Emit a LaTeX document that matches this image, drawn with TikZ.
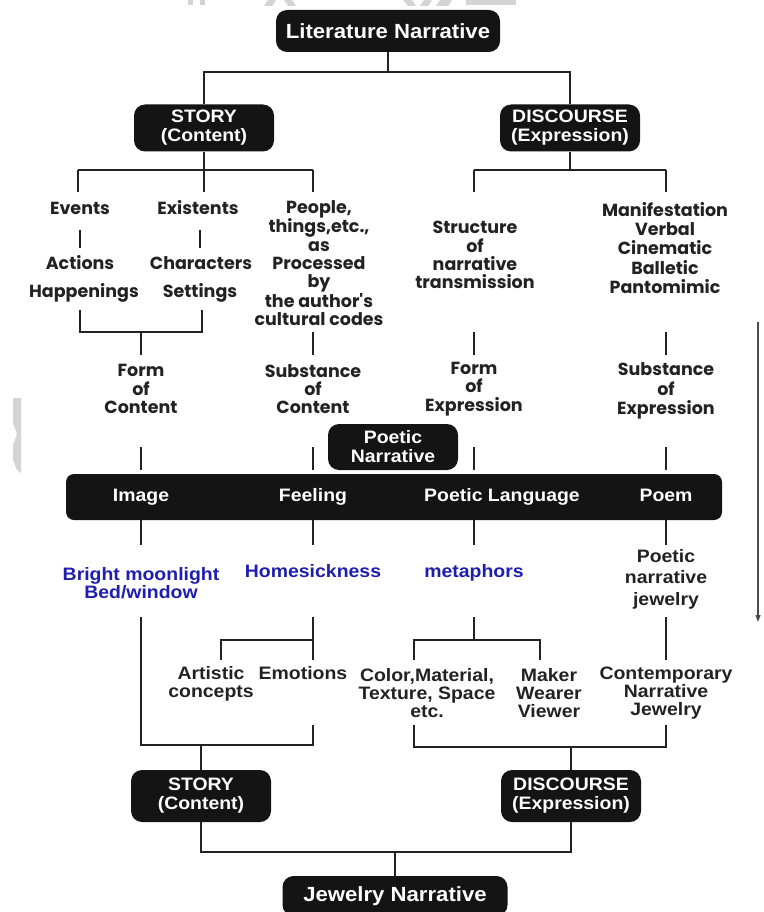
\documentclass[tikz,border=0pt]{standalone}
\usepackage{fontspec}
\setmainfont{Liberation Sans}
\newfontfamily\narrowfont[FakeStretch=1.08]{Liberation Sans}
\newfontfamily\geofont{Poppins}
\usetikzlibrary{calc,arrows.meta}
\definecolor{ink}{RGB}{34,34,34}
\definecolor{navy}{RGB}{30,30,175}
\definecolor{faintgrey}{RGB}{212,212,212}

\tikzset{
  blackbox/.style={fill=black!92, rounded corners=11pt, text=white, align=center,
    inner sep=0pt, font=\narrowfont\bfseries\fontsize{18}{19}\selectfont},
  titlebox/.style={blackbox, font=\narrowfont\bfseries\fontsize{20.5}{21}\selectfont},
  geo/.style={text=ink, align=center, inner sep=0pt,
    font=\geofont\bfseries\fontsize{17.5}{18.3}\selectfont},
  nar/.style={text=ink, align=center, inner sep=0pt,
    font=\narrowfont\bfseries\fontsize{18}{18}\selectfont},
  bluetxt/.style={nar, text=navy},
  oneline/.style={text height=13pt, text depth=4pt},
  bandtxt/.style={text=white, inner sep=0pt, oneline,
    font=\narrowfont\bfseries\fontsize{18}{19}\selectfont},
  link/.style={draw=ink, line width=1.8pt},
}

\begin{document}
\begin{tikzpicture}[x=1pt,y=-1pt]
\useasboundingbox (0,0) rectangle (763,912);

% faint background marks
\fill[faintgrey] (188,0) rectangle (193,5);
\fill[faintgrey] (200,0) rectangle (205,5);
\fill[faintgrey] (268,0) -- (276,0) -- (272,6) -- (264,6) -- cycle;
\fill[faintgrey] (284,0) -- (292,0) -- (296,6) -- (288,6) -- cycle;
\fill[faintgrey] (403,0) -- (412,0) -- (416,6) -- (408,6) -- cycle;
\fill[faintgrey] (424,0) -- (432,0) -- (428,6) -- (420,6) -- cycle;
\fill[faintgrey] (440,0) -- (452,0) -- (448,6) -- (436,6) -- cycle;
\fill[faintgrey] (466,0) rectangle (516,5);
\fill[faintgrey] (13,398) -- (21,398) -- (21,473) -- (17,470) -- (13,460) -- (13,445) -- (17,434) -- (13,423) -- cycle;

% ---------- upper tree: literature narrative ----------
\node[titlebox, minimum width=224pt, minimum height=42pt] (lit) at (388,31) {Literature Narrative};
\node[blackbox, minimum width=140pt, minimum height=47pt] (story) at (204,128) {STORY\\(Content)};
\node[blackbox, minimum width=140pt, minimum height=47pt] (disc) at (570,128) {DISCOURSE\\(Expression)};

\node[geo] (events)    at (80,208)  {Events};
\node[geo] (existents) at (198,208) {Existents};
\node[geo] (people)    at (319,263) {People,\\things,etc.,\\as\\Processed\\by\\the author's\\cultural codes};
\node[geo] (actions)   at (80,263)  {Actions};
\node[geo] (characters) at (201,263) {Characters};
\node[geo] (happen)    at (84,293)  {Happenings};
\node[geo] (settings)  at (200,293) {Settings};

\node[geo] (struct) at (475,255) {Structure\\of\\narrative\\transmission};
\node[geo, font=\geofont\bfseries\fontsize{17.5}{19.2}\selectfont] (manif) at (665,248)
  {Manifestation\\Verbal\\Cinematic\\Balletic\\Pantomimic};

\node[geo] (formc)  at (141,389) {Form\\of\\Content};
\node[geo] (substc) at (313,389) {Substance\\of\\Content};
\node[geo] (forme)  at (474,389) {Form\\of\\Expression};
\node[geo, font=\geofont\bfseries\fontsize{17.5}{19.5}\selectfont] (subste) at (666,391) {Substance\\of\\Expression};

\coordinate (j1) at (388,72);
\draw[link] (lit.south) -- (j1);
\draw[link] (j1) -| (story.north);
\draw[link] (j1) -| (disc.north);

\coordinate (j2) at (204,170);
\draw[link] (story.south) -- (j2);
\draw[link] ($(j2 -| events)+(-2,0)$) -- (j2 -| substc);
\draw[link] ($(j2 -| events)+(-2,0)$) -- ($(events)+(-2,-16)$);
\draw[link] (j2) -- ($(existents |- events)+(6,-16)$);
\draw[link] (j2 -| substc) -- ($(substc |- people)+(0,-71)$);

\coordinate (j4) at (570,170);
\draw[link] (disc.south) -- (j4);
\draw[link] (j4 -| forme) -- (j4 -| subste);
\draw[link] (j4 -| forme) -- ($(forme |- struct)+(0,-63)$);
\draw[link] (j4 -| subste) -- ($(subste |- manif)+(0,-56)$);

\draw[link] ($(events)+(0,22)$) -- ($(actions)+(0,-15)$);
\draw[link] ($(existents)+(2,22)$) -- ($(existents |- characters)+(2,-15)$);

\coordinate (j3) at (141,332);
\draw[link] ($(happen)+(-4,17)$) |- (j3) -| ($(settings)+(2,17)$);
\draw[link] (j3) -- ($(formc)+(0,-34)$);
\draw[link] ($(substc |- people)+(0,69)$) -- ($(substc)+(0,-34)$);
\draw[link] ($(forme |- struct)+(0,77)$) -- ($(forme)+(0,-34)$);
\draw[link] ($(subste |- manif)+(0,84)$) -- ($(subste)+(0,-36)$);

% ---------- poetic narrative band ----------
\node[blackbox, minimum width=130pt, minimum height=46pt] (poetic) at (393,447) {Poetic\\Narrative};
\node[blackbox, minimum width=656pt, minimum height=46pt, rounded corners=8pt] (band) at (394,497) {};
\node[bandtxt] (image)   at (141,497) {Image};
\node[bandtxt] (feeling) at (313,497) {Feeling};
\node[bandtxt] (plang)   at (502,497) {Poetic Language};
\node[bandtxt] (poem)    at (666,497) {Poem};

\draw[link] ($(formc)+(0,58)$) -- ($(image)+(0,-27)$);
\draw[link] ($(substc)+(0,58)$) -- ($(feeling)+(0,-27)$);
\draw[link] ($(forme)+(0,58)$) -- ($(forme |- band)+(0,-27)$);
\draw[link] ($(subste)+(0,56)$) -- ($(poem)+(0,-27)$);

% ---------- lower tree: jewelry narrative ----------
\node[bluetxt] (bright)    at (141,583) {Bright moonlight\\Bed/window};
\node[bluetxt, oneline] (homesick)  at (313,573) {Homesickness};
\node[bluetxt, oneline] (metaphors) at (474,573) {metaphors};
\node[nar, font=\narrowfont\bfseries\fontsize{18}{21.5}\selectfont] (pnj) at (666,579) {Poetic\\narrative\\jewelry};

\draw[link] ($(image)+(0,23)$) -- ($(bright)+(0,-38)$);
\draw[link] ($(feeling)+(0,23)$) -- ($(homesick)+(0,-28)$);
\draw[link] ($(metaphors |- band)+(0,23)$) -- ($(metaphors)+(0,-28)$);
\draw[link] ($(poem)+(0,23)$) -- ($(pnj)+(0,-34)$);

\node[nar] (artistic) at (211,684) {Artistic\\concepts};
\node[nar, oneline] (emotions) at (303,675) {Emotions};
\node[nar] (color)    at (427,693) {Color,Material,\\Texture, Space\\etc.};
\node[nar] (maker)    at (549,693) {Maker\\Wearer\\Viewer};
\node[nar] (contemp)  at (666,693) {Contemporary\\Narrative\\Jewelry};

\coordinate (j5) at (313,640);
\coordinate (k1) at (221,660);
\draw[link] ($(homesick)+(0,44)$) -- ($(homesick)+(0,87)$);
\draw[link] (j5) -| (k1);

\coordinate (j6) at (474,640);
\coordinate (k2) at (414,660);
\coordinate (k3) at (540,660);
\draw[link] ($(metaphors)+(0,44)$) -- (j6);
\draw[link] (k2) |- (j6) -| (k3);
\draw[link] ($(pnj)+(0,38)$) -- ($(contemp)+(0,-33)$);

\node[blackbox, minimum width=140pt, minimum height=52pt] (story2) at (201,796) {STORY\\(Content)};
\node[blackbox, minimum width=140pt, minimum height=52pt] (disc2) at (571,796) {DISCOURSE\\(Expression)};
\node[titlebox, minimum width=225pt, minimum height=40pt] (jewel) at (395,896) {Jewelry Narrative};

\coordinate (j7) at (201,745);
\coordinate (k4) at (313,725);
\draw[link] ($(bright)+(0,34)$) |- (j7);
\draw[link] (j7) -| (k4);
\draw[link] (j7) -- (story2.north);

\coordinate (j8) at (571,747);
\coordinate (k5) at (414,725);
\draw[link] (k5) |- (j8);
\draw[link] ($(contemp)+(0,32)$) |- (j8);
\draw[link] (j8) -- (disc2.north);

\coordinate (j9) at (395,852);
\draw[link] (story2.south) |- (j9);
\draw[link] (disc2.south) |- (j9);
\draw[link] (j9) -- (jewel.north);

% reading direction
\coordinate (r1) at (758,322);
\coordinate (r2) at (758,622);
\draw[draw=black!70, line width=1.3pt, -{Triangle[length=7pt,width=5pt]}] (r1) -- (r2);

\end{tikzpicture}
\end{document}
